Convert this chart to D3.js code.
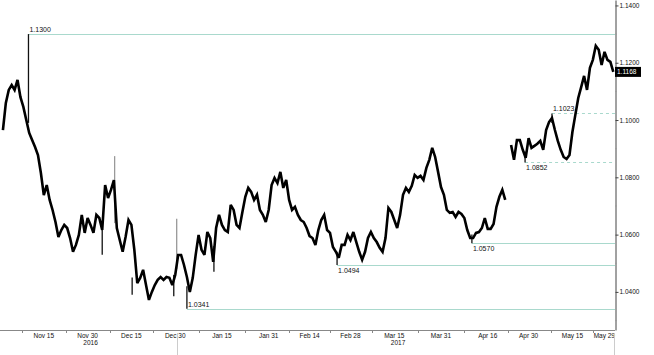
<!DOCTYPE html>
<html>
<head>
<meta charset="utf-8">
<script src="https://cdn.jsdelivr.net/npm/d3@7"></script>
<style>
  body { margin: 0; background: #fff; }
  svg { display: block; font-family: "Liberation Sans", Arial, sans-serif; }
</style>
</head>
<body>
<div id="chart"></div>
<script>
// daily closes, Nov 1 2016 .. May 29 2017 (null = gap on the French election weekend)
const closes = [
  // Nov
  1.0965, 1.1060, 1.1105, 1.1122, 1.1105, 1.1140, 1.1080, 1.1046, 1.1000, 1.0955,
  1.0930, 1.0906, 1.0878, 1.0815, 1.0738, 1.0773, 1.0721, 1.0686, 1.0644, 1.0592,
  1.0616, 1.0634, 1.0623, 1.0588, 1.0540, 1.0564, 1.0599, 1.0669, 1.0606, 1.0658,
  // Dec
  1.0634, 1.0606, 1.0669, 1.0658, 1.0616, 1.0773, 1.0728, 1.0756, 1.0790, 1.0623,
  1.0581, 1.0540, 1.0592, 1.0651, 1.0634, 1.0547, 1.0431, 1.0449, 1.0477, 1.0424,
  1.0372, 1.0400, 1.0424, 1.0442, 1.0452, 1.0442, 1.0452, 1.0449, 1.0424, 1.0459,
  1.0529,
  // Jan
  1.0529, 1.0494, 1.0452, 1.0400, 1.0449, 1.0529, 1.0599, 1.0547, 1.0529, 1.0609,
  1.0588, 1.0505, 1.0623, 1.0669, 1.0634, 1.0616, 1.0609, 1.0704, 1.0686, 1.0634,
  1.0623, 1.0679, 1.0732, 1.0763, 1.0749, 1.0721, 1.0739, 1.0686, 1.0669, 1.0644,
  1.0686,
  // Feb
  1.0773, 1.0798, 1.0780, 1.0819, 1.0763, 1.0791, 1.0721, 1.0686, 1.0697, 1.0669,
  1.0651, 1.0644, 1.0623, 1.0595, 1.0588, 1.0564, 1.0616, 1.0651, 1.0669, 1.0616,
  1.0606, 1.0557, 1.0540, 1.0519, 1.0564, 1.0564, 1.0599, 1.0581,
  // Mar
  1.0609, 1.0574, 1.0540, 1.0512, 1.0540, 1.0588, 1.0609, 1.0588, 1.0574, 1.0554,
  1.0540, 1.0588, 1.0693, 1.0679, 1.0651, 1.0623, 1.0669, 1.0739, 1.0763, 1.0749,
  1.0770, 1.0808, 1.0798, 1.0805, 1.0791, 1.0833, 1.0861, 1.0903, 1.0871, 1.0819,
  1.0766,
  // Apr
  1.0739, 1.0686, 1.0676, 1.0679, 1.0662, 1.0679, 1.0672, 1.0658, 1.0616, 1.0588,
  1.0588, 1.0606, 1.0609, 1.0623, 1.0658, 1.0620, 1.0620, 1.0637, 1.0697, 1.0732,
  1.0756, 1.0721, null,   1.0913, 1.0861, 1.0930, 1.0930, 1.0896, 1.0868, 1.0937,
  // May
  1.0903, 1.0910, 1.0917, 1.0927, 1.0896, 1.0965, 1.0993, 1.1007, 1.0965, 1.0927,
  1.0896, 1.0871, 1.0864, 1.0878, 1.0958, 1.1018, 1.1077, 1.1115, 1.1154, 1.1105,
  1.1182, 1.1210, 1.1259, 1.1245, 1.1192, 1.1238, 1.1210, 1.1203, 1.1168
];

// intraday spikes: date, low, high
const wickDates = ["2016-11-09T18:00", "2016-12-05T00:00", "2016-12-09T06:00", "2016-12-15T06:00",
  "2016-12-29T12:00", "2016-12-30T12:00", "2017-01-03T00:00", "2017-01-12T06:00",
  "2017-02-23T10:00", "2017-04-10T14:00", "2017-04-28T19:00", "2017-05-08T00:00"];
const wickLows  = [1.0990, 1.0530, 1.0640, 1.0390, 1.0385, 1.0480, 1.0341, 1.0470, 1.0494, 1.0570, 1.0852, 1.0990];
const wickHighs = [1.1300, 1.0630, 1.0874, 1.0450, 1.0460, 1.0655, 1.0420, 1.0560, 1.0540, 1.0600, 1.0890, 1.1023];
const wickGray  = [false, false, true, false, false, true, false, false, false, false, false, false];

// marked highs / lows
const levelValues = [1.1300, 1.0341, 1.0494, 1.0570, 1.1023, 1.0852];
const levelDates = ["2016-11-09T18:00", "2017-01-03T00:00", "2017-02-23T10:00",
  "2017-04-10T14:00", "2017-05-08T00:00", "2017-04-28T19:00"];
const levelDashed = [false, false, false, false, true, true];
const levelAbove  = [true, true, false, false, true, false];

const tickDates = ["2016-11-15", "2016-11-30", "2016-12-15", "2016-12-30", "2017-01-15",
  "2017-01-31", "2017-02-14", "2017-02-28", "2017-03-15", "2017-03-31", "2017-04-16",
  "2017-04-30", "2017-05-15", "2017-05-29"];
const tickLabels = ["Nov 15", "Nov 30", "Dec 15", "Dec 30", "Jan 15", "Jan 31", "Feb 14",
  "Feb 28", "Mar 15", "Mar 31", "Apr 16", "Apr 30", "May 15", "May 29"];
const priceTicks = [1.04, 1.06, 1.08, 1.10, 1.12, 1.14];
const lastPrice = 1.1168;

const width = 654, height = 355;
const plotRight = 615, plotBottom = 330;
const parse = d3.isoParse;

const svg = d3.select("#chart").append("svg")
  .attr("width", width)
  .attr("height", height);

const start = new Date(2016, 9, 31);
const end = new Date(2017, 4, 29, 14);
const x = d3.scaleTime().domain([start, end]).range([0, plotRight]);
const y = d3.scaleLinear().domain([1.0267, 1.1419]).range([plotBottom, 0]);

const days = d3.timeDay.range(new Date(2016, 10, 1), new Date(2017, 4, 30));
const data = days.map((d, i) => ({ date: d, v: closes[i] }));

const teal = "#a9d9cd";

// level lines
levelValues.forEach(function(v, i) {
  const x0 = x(parse(levelDates[i]));
  svg.append("line")
    .attr("x1", x0).attr("x2", plotRight)
    .attr("y1", Math.round(y(v)) + 0.5).attr("y2", Math.round(y(v)) + 0.5)
    .attr("stroke", teal)
    .attr("stroke-width", 1)
    .attr("stroke-dasharray", levelDashed[i] ? "3,3" : null);
  svg.append("text")
    .attr("x", x0 + 1)
    .attr("y", levelAbove[i] ? y(v) - 2 : y(v) + 8)
    .attr("font-size", "7px")
    .attr("fill", "#111")
    .text(v.toFixed(4));
});

// wicks
wickDates.forEach(function(d, i) {
  const xx = x(parse(d));
  svg.append("line")
    .attr("x1", xx).attr("x2", xx)
    .attr("y1", y(wickLows[i])).attr("y2", y(wickHighs[i]))
    .attr("stroke", wickGray[i] ? "#999" : "#111")
    .attr("stroke-width", 1.3);
});

// price line
const line = d3.line()
  .defined(d => d.v != null)
  .x(d => x(d.date))
  .y(d => y(d.v));

svg.append("path")
  .datum(data)
  .attr("fill", "none")
  .attr("stroke", "#000")
  .attr("stroke-width", 2.6)
  .attr("stroke-linejoin", "miter")
  .attr("stroke-miterlimit", 3)
  .attr("d", line);

// x axis
svg.append("line")
  .attr("x1", 0).attr("x2", plotRight)
  .attr("y1", plotBottom + 0.5).attr("y2", plotBottom + 0.5)
  .attr("stroke", "#888");

const tickX = tickDates.map(d => x(parse(d)));
tickX.forEach(function(tx, i) {
  const prev = i === 0 ? 0 : tickX[i - 1];
  const mx = Math.round((prev + tx) / 2) + 0.5;
  svg.append("line")
    .attr("x1", mx).attr("x2", mx)
    .attr("y1", plotBottom).attr("y2", plotBottom + 3)
    .attr("stroke", "#888");
  const t = svg.append("text")
    .attr("y", plotBottom + 8)
    .attr("font-size", "6.5px")
    .attr("fill", "#111")
    .text(tickLabels[i]);
  if (tx + 11 > plotRight) {
    t.attr("x", plotRight).attr("text-anchor", "end");
  } else {
    t.attr("x", tx).attr("text-anchor", "middle");
  }
});

// year labels centred on each year's span
const years = [[start, new Date(2017, 0, 1), "2016"], [new Date(2017, 0, 1), end, "2017"]];
years.forEach(function(yr) {
  svg.append("text")
    .attr("x", (x(yr[0]) + x(yr[1])) / 2)
    .attr("y", plotBottom + 15)
    .attr("text-anchor", "middle")
    .attr("font-size", "6.5px")
    .attr("fill", "#111")
    .text(yr[2]);
});

// year separator / end marker below the axis
[new Date(2016, 11, 31), end].forEach(function(d) {
  const xx = Math.round(x(d)) - 0.5;
  svg.append("line")
    .attr("x1", xx).attr("x2", xx)
    .attr("y1", plotBottom + 3).attr("y2", height)
    .attr("stroke", "#ccc");
});

// y axis on the right
const yAxis = svg.append("g")
  .attr("transform", "translate(" + (plotRight + 0.5) + ",0)")
  .call(d3.axisRight(y)
    .tickValues(priceTicks)
    .tickFormat(d3.format(".4f"))
    .tickSize(3)
    .tickSizeOuter(0)
    .tickPadding(1));
yAxis.select(".domain").attr("stroke", "#444");
yAxis.selectAll(".tick line").attr("stroke", "#444");
yAxis.selectAll(".tick text")
  .attr("font-size", "6.5px")
  .attr("font-family", "\"Liberation Sans\", Arial, sans-serif")
  .attr("fill", "#111");

// minor ticks
d3.range(1.03, 1.14, 0.02).forEach(function(v) {
  svg.append("line")
    .attr("x1", plotRight).attr("x2", plotRight + 2)
    .attr("y1", y(v)).attr("y2", y(v))
    .attr("stroke", "#999");
});

// last price box
const ly = y(lastPrice);
svg.append("rect")
  .attr("x", plotRight)
  .attr("y", ly - 5)
  .attr("width", 26)
  .attr("height", 10)
  .attr("fill", "#000");
svg.append("text")
  .attr("x", plotRight + 2)
  .attr("y", ly + 2.5)
  .attr("font-size", "6.5px")
  .attr("fill", "#fff")
  .text(lastPrice.toFixed(4));
</script>
</body>
</html>
